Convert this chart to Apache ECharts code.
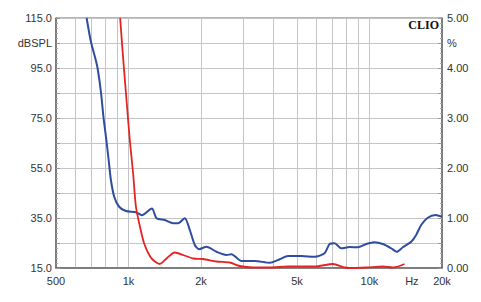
<!DOCTYPE html>
<html>
<head>
<meta charset="utf-8">
<script src="https://cdn.jsdelivr.net/npm/echarts@6/dist/echarts.min.js"></script>
<style>
  html, body { margin: 0; padding: 0; background: #fff; }
  #chart { width: 481px; height: 302px; }
</style>
</head>
<body>
<div id="chart"></div>
<script>
// frequency response (blue, dBSPL) and distortion (red, %)
var blueFreq = [670, 698, 728, 744, 768, 788, 810, 827, 845, 872, 914, 975, 1073, 1136, 1250, 1307, 1414, 1531, 1606, 1712, 1796, 1884, 1963, 2106, 2317, 2549, 2674, 2942, 3339, 3852, 4239, 4589, 5216, 5919, 6513, 6830, 7166, 7638, 8268, 8947, 9695, 10495, 11361, 12307, 12984, 13750, 14900, 15626, 16390, 17457, 18784, 20000];
var blueDb = [115, 105.5, 98.9, 94.9, 85.5, 74.9, 65.8, 58.2, 50.2, 43.5, 39.5, 37.8, 37.3, 36.1, 38.8, 34.9, 34.2, 32.9, 32.9, 34.9, 30.2, 24.2, 22.5, 23.5, 21.5, 20.2, 20.5, 17.8, 17.8, 17.1, 18.5, 19.8, 19.8, 19.5, 20.9, 24.6, 24.9, 22.9, 23.4, 23.3, 24.6, 25.3, 24.6, 22.9, 21.5, 23.3, 25.5, 28.2, 32.2, 35.1, 36.2, 35.5];

var redFreq = [923, 950, 982, 1013, 1045, 1073, 1115, 1161, 1229, 1286, 1349, 1438, 1556, 1685, 1854, 2039, 2317, 2630, 2894, 3286, 3852, 4576, 5919, 7050, 7884, 8268, 9695, 11361, 12497, 13326, 13974];
var redPct = [5.0, 4.19, 3.33, 2.54, 1.89, 1.23, 0.83, 0.49, 0.23, 0.13, 0.08, 0.19, 0.31, 0.26, 0.19, 0.18, 0.13, 0.11, 0.04, 0.01, 0.01, 0.03, 0.03, 0.08, 0.01, 0.0, 0.01, 0.03, 0.01, 0.04, 0.08];

var gridFreqs = [600, 700, 800, 900, 1000, 2000, 3000, 4000, 5000, 6000, 7000, 8000, 9000, 10000];
var labelFreqs = [500, 1000, 2000, 5000, 10000, 15000, 20000];
var labelTexts = ['500', '1k', '2k', '5k', '10k', 'Hz', '20k'];

var chart = echarts.init(document.getElementById('chart'), null, { renderer: 'svg' });

function toLog(f) { return Math.log10(f); }
function pair(xs, ys) {
  return xs.map(function(f, i) { return [toLog(f), ys[i]]; });
}

var axisColor = '#6a6a6a';
var gridColor = '#c4c4c4';
var textColor = '#333';

chart.setOption({
  animation: false,
  grid: {
    left: 56, right: 39, top: 18, bottom: 34,
    show: true, borderColor: axisColor, borderWidth: 1
  },
  xAxis: {
    type: 'value',
    min: toLog(500),
    max: toLog(20000),
    axisLine: { lineStyle: { color: axisColor, width: 1.5 } },
    axisTick: { show: false, customValues: gridFreqs.map(toLog) },
    splitLine: { show: true, lineStyle: { color: gridColor, width: 1 } },
    axisLabel: {
      customValues: labelFreqs.map(toLog),
      color: textColor,
      fontSize: 11,
      fontFamily: 'Liberation Sans',
      margin: 7,
      formatter: function(v) {
        var best = 0;
        for (var i = 1; i < labelFreqs.length; i++) {
          if (Math.abs(toLog(labelFreqs[i]) - v) < Math.abs(toLog(labelFreqs[best]) - v)) best = i;
        }
        return labelTexts[best];
      }
    }
  },
  yAxis: [
    {
      type: 'value',
      min: 15, max: 115, interval: 10,
      axisLine: { show: true, lineStyle: { color: axisColor, width: 1.5 } },
      axisTick: { show: true, inside: true, length: 4, lineStyle: { color: '#999' } },
      minorTick: { show: true, splitNumber: 5, length: 2, lineStyle: { color: '#aaa' } },
      splitLine: { lineStyle: { color: gridColor, width: 1 } },
      axisLabel: {
        color: textColor, fontSize: 11, fontFamily: 'Liberation Sans', margin: 4,
        formatter: function(v) {
          if (v === 105) return 'dBSPL';
          return (v - 15) % 20 === 0 ? v.toFixed(1) : '';
        }
      }
    },
    {
      type: 'value',
      min: 0, max: 5, interval: 0.5,
      position: 'right',
      axisLine: { show: true, lineStyle: { color: axisColor, width: 1.5 } },
      axisTick: { show: true, inside: true, length: 4, lineStyle: { color: '#999' } },
      minorTick: { show: true, splitNumber: 5, length: 2, lineStyle: { color: '#aaa' } },
      splitLine: { show: false },
      axisLabel: {
        color: textColor, fontSize: 11, fontFamily: 'Liberation Sans', margin: 5,
        formatter: function(v) {
          if (Math.abs(v - 4.5) < 1e-6) return '%';
          return Math.abs(v - Math.round(v)) < 1e-6 ? v.toFixed(2) : '';
        }
      }
    }
  ],
  graphic: [{
    type: 'text',
    right: 42, top: 19,
    style: { text: 'CLIO', fill: '#111', font: 'bold 12px "Liberation Serif"' }
  }],
  series: [
    {
      type: 'line',
      yAxisIndex: 0,
      data: pair(blueFreq, blueDb),
      smooth: 0.25,
      showSymbol: false,
      lineStyle: { color: '#2e4d9e', width: 2 }
    },
    {
      type: 'line',
      yAxisIndex: 1,
      data: pair(redFreq, redPct),
      smooth: 0.25,
      showSymbol: false,
      lineStyle: { color: '#e42424', width: 1.8 }
    }
  ]
});
</script>
</body>
</html>
